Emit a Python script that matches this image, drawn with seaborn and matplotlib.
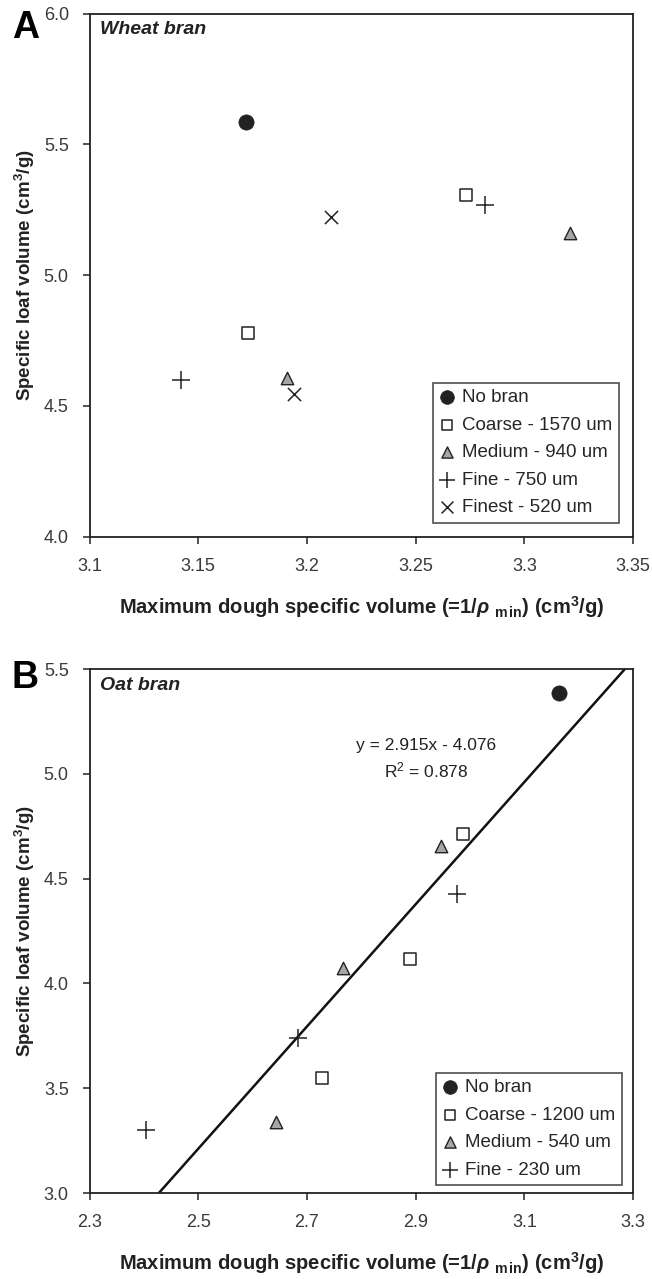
#!/usr/bin/env python3
# Two-panel scatter: loaf volume vs dough specific volume (wheat / oat bran)

import numpy as np
import pandas as pd
import matplotlib.pyplot as plt
import seaborn as sns

# ============================================================================
# DATA
# ============================================================================
wheat_groups = ["No bran", "Coarse - 1570 um", "Medium - 940 um",
                "Fine - 750 um", "Finest - 520 um"]
wheat_x = [[3.172], [3.173, 3.273], [3.191, 3.321], [3.142, 3.282], [3.194, 3.211]]
wheat_y = [[5.585], [4.779, 5.306], [4.608, 5.162], [4.598, 5.268], [4.545, 5.222]]

oat_groups = ["No bran", "Coarse - 1200 um", "Medium - 540 um", "Fine - 230 um"]
oat_x = [[3.163], [2.987, 2.889, 2.727], [2.947, 2.766, 2.643], [2.977, 2.684, 2.404]]
oat_y = [[5.385], [4.715, 4.115, 3.550], [4.655, 4.075, 3.340], [4.425, 3.740, 3.300]]

# trendline reported for oat bran
trend_slope = 2.915
trend_intercept = -4.076
trend_r2 = 0.878

# ============================================================================
# THEME SETTINGS
# ============================================================================
sns.set_theme(style="ticks")
plt.rcParams['font.family'] = ['Liberation Sans', 'DejaVu Sans']
plt.rcParams['mathtext.fontset'] = 'custom'
plt.rcParams['mathtext.rm'] = 'Liberation Sans:bold'
plt.rcParams['mathtext.bf'] = 'Liberation Sans:bold'
plt.rcParams['mathtext.it'] = 'Liberation Sans:italic'
plt.rcParams['mathtext.bfit'] = 'Liberation Sans:italic:bold'

ink = '#222222'
tick_col = '#3a3a3a'

# marker style per group position (same order in both panels)
styles = [
    dict(marker='o', s=120, color=ink, edgecolor=ink, linewidth=0.5),
    dict(marker='s', s=70, color='white', edgecolor=ink, linewidth=1.1),
    dict(marker='^', s=80, color='#a6a6a6', edgecolor=ink, linewidth=1.0),
    dict(marker='+', s=150, color=ink, linewidth=1.1),
    dict(marker='x', s=90, color=ink, linewidth=1.1),
]


def make_df(groups, xs, ys):
    rows = []
    for g, xv, yv in zip(groups, xs, ys):
        for a, b in zip(xv, yv):
            rows.append({"group": g, "x": a, "y": b})
    return pd.DataFrame(rows)


xlabel = r'Maximum dough specific volume (=1/$\mathbfit{\rho}$ $_{\rm \mathregular{m\,in}}$) (cm$^{3}$/g)'
ylabel = r'Specific loaf volume (cm$^{3}$/g)'

# ============================================================================
# CREATE PLOT
# ============================================================================
fig = plt.figure(figsize=(6.52, 12.79), dpi=100)
axA = fig.add_axes([0.1374, 0.5804, 0.8334, 0.409])
axB = fig.add_axes([0.1374, 0.0672, 0.8334, 0.4097])


def draw_panel(ax, groups, xs, ys):
    df = make_df(groups, xs, ys)
    for i, g in enumerate(groups):
        sns.scatterplot(data=df[df["group"] == g], x="x", y="y",
                        label=g, ax=ax, zorder=3, **styles[i])


def style_axes(ax, xlim, xticks, xticklabels, ylim, yticks):
    ax.set_xlim(*xlim)
    ax.set_ylim(*ylim)
    ax.set_xticks(xticks)
    ax.set_xticklabels(xticklabels)
    ax.set_yticks(yticks)
    ax.set_yticklabels([f"{v:.1f}" for v in yticks])
    ax.set_xlabel(xlabel, fontsize=14.5, fontweight='bold', color=ink, labelpad=14)
    ax.set_ylabel(ylabel, fontsize=13.5, fontweight='bold', color=ink, labelpad=5)
    ax.tick_params(direction='out', length=5, width=1.1, colors=ink,
                   labelcolor=tick_col, labelsize=13, pad=10)
    for sp in ax.spines.values():
        sp.set_visible(True)
        sp.set_linewidth(1.3)
        sp.set_color(ink)


# Panel A - wheat bran
draw_panel(axA, wheat_groups, wheat_x, wheat_y)
style_axes(axA, (3.1, 3.35), [3.1, 3.15, 3.2, 3.25, 3.3, 3.35],
           ["3.1", "3.15", "3.2", "3.25", "3.3", "3.35"],
           (4.0, 6.0), [4.0, 4.5, 5.0, 5.5, 6.0])
axA.text(0.02, 0.985, "Wheat bran", transform=axA.transAxes, ha='left', va='top',
         fontsize=14, fontweight='bold', fontstyle='italic', color=ink)
legA = axA.legend(loc='lower right', bbox_to_anchor=(0.974, 0.027), borderaxespad=0,
                  fontsize=13.5, frameon=True, fancybox=False, edgecolor=ink,
                  handlelength=0.8, handletextpad=0.4, labelspacing=0.55,
                  borderpad=0.35, markerscale=0.9)
legA.get_frame().set_linewidth(1.2)

# Panel B - oat bran
draw_panel(axB, oat_groups, oat_x, oat_y)
line_x = np.array([2.3, 3.3])
axB.plot(line_x, trend_slope * line_x + trend_intercept, color='#111111',
         linewidth=1.8, zorder=2)
style_axes(axB, (2.3, 3.3), [2.3, 2.5, 2.7, 2.9, 3.1, 3.3],
           ["2.3", "2.5", "2.7", "2.9", "3.1", "3.3"],
           (3.0, 5.5), [3.0, 3.5, 4.0, 4.5, 5.0, 5.5])
axB.text(0.02, 0.985, "Oat bran", transform=axB.transAxes, ha='left', va='top',
         fontsize=14, fontweight='bold', fontstyle='italic', color=ink)
axB.text(0.619, 0.828,
         f"y = {trend_slope:.3f}x - {abs(trend_intercept):.3f}\n"
         f"R$^{{\\mathregular{{2}}}}$ = {trend_r2:.3f}",
         transform=axB.transAxes, ha='center', va='center', multialignment='center',
         fontsize=12.5, color=ink, linespacing=1.45)
legB = axB.legend(loc='lower right', bbox_to_anchor=(0.979, 0.015), borderaxespad=0,
                  fontsize=13.5, frameon=True, fancybox=False, edgecolor=ink,
                  handlelength=0.8, handletextpad=0.4, labelspacing=0.55,
                  borderpad=0.35, markerscale=0.9)
legB.get_frame().set_linewidth(1.2)

# panel letters
fig.text(0.018, 0.992, "A", fontsize=27, fontweight='bold', va='top', ha='left', color='black')
fig.text(0.018, 0.484, "B", fontsize=27, fontweight='bold', va='top', ha='left', color='black')

# ============================================================================
# SAVE OUTPUT
# ============================================================================
plt.savefig("out.png", dpi=100)
print("Plot saved to: out.png")
plt.close()
